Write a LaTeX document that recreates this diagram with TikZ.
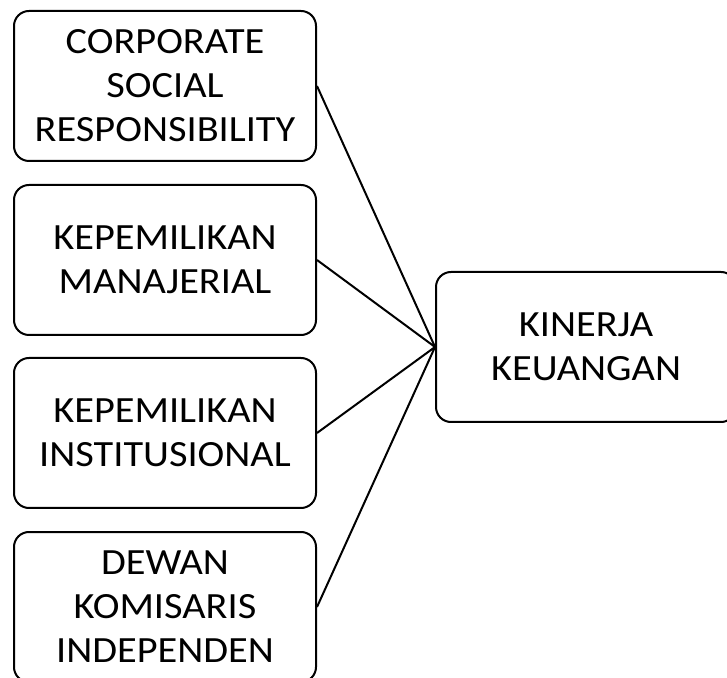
\documentclass[tikz,border=0pt]{standalone}
\usepackage{fontspec}
\setmainfont{Carlito}[FakeStretch=1.09]
\begin{document}
\begin{tikzpicture}[x=1pt,y=1pt,
  box/.style={draw=black, line width=2pt, rounded corners=15pt, align=center,
    font=\fontsize{37}{44}\selectfont, inner sep=0pt},
  link/.style={draw=black, line width=2pt}]
\useasboundingbox (0,0) rectangle (727,677);
\node[box, minimum width=302pt, minimum height=150pt] (csr) at (165,591) {CORPORATE\\SOCIAL\\RESPONSIBILITY};
\node[box, minimum width=302pt, minimum height=150pt] (km) at (165,417) {KEPEMILIKAN\\MANAJERIAL};
\node[box, minimum width=302pt, minimum height=150pt] (ki) at (165,244) {KEPEMILIKAN\\INSTITUSIONAL};
\node[box, minimum width=302pt, minimum height=150pt] (dki) at (165,70) {DEWAN\\KOMISARIS\\INDEPENDEN};
\node[box, minimum width=300pt, minimum height=150pt] (kk) at (586,330) {KINERJA\\KEUANGAN};
\draw[link] (csr.east) -- (kk.west);
\draw[link] (km.east) -- (kk.west);
\draw[link] (ki.east) -- (kk.west);
\draw[link] (dki.east) -- (kk.west);
\end{tikzpicture}
\end{document}
